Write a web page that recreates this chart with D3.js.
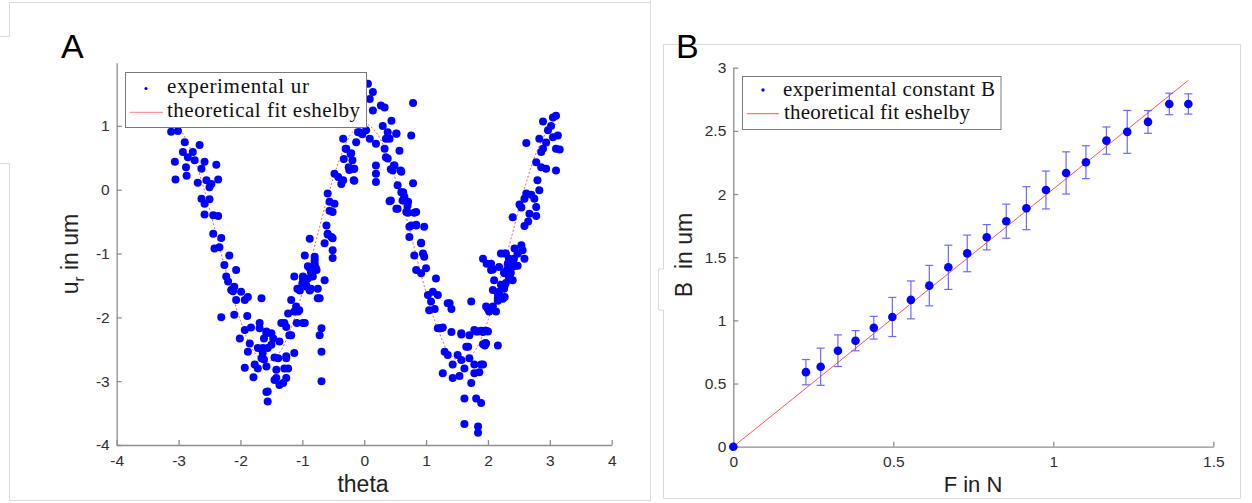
<!DOCTYPE html>
<html><head><meta charset="utf-8">
<script src="https://cdn.jsdelivr.net/npm/d3@7"></script>
<style>body{margin:0;background:#fff}svg{display:block}</style>
</head><body>
<svg id="c" width="1252" height="503"></svg>
<script>
// ---------- Panel A data: experimental u_r versus theta ----------
const thetaA = [
 -3.12,-3.01,-2.90,-2.66,-2.93,-2.77,-2.85,-2.74,-3.06,-2.58,
 -2.39,-2.88,-2.63,-2.87,-3.05,-2.69,-2.55,-2.47,-2.36,-2.50,
 -2.63,-2.50,-2.58,-2.58,-2.44,-2.36,-2.44,-2.31,-2.34,-2.18,
 -2.26,-2.07,-2.23,-2.20,-2.10,-2.12,-1.99,-1.88,-1.66,-1.93,
 -2.31,-2.10,-1.89,-1.93,-1.83,-1.69,-1.58,-2.01,-1.85,-1.88,
 -1.72,-1.64,-1.56,-1.66,-1.77,-1.58,-1.93,-1.79,-1.58,-1.56,
 -2.42,-2.15,-2.07,-1.72,-1.62,-1.64,-1.69,-1.62,
 0.06,0.14,0.09,0.27,0.14,-0.26,-0.10,0.03,0.09,0.19,
 -0.34,-0.13,-0.30,-0.22,-0.33,-0.19,-0.17,-0.25,-0.48,-0.42,
 -0.34,-0.37,-0.17,0.19,0.19,0.19,-0.59,-0.56,-0.48,-0.51,
 -0.61,-0.59,-0.53,-0.64,-0.88,-0.51,-0.51,-0.96,-0.80,-0.80,
 -0.88,-0.77,-1.13,-0.99,-0.91,-0.83,-0.64,-1.00,-0.93,-0.88,
 -1.04,-0.75,-0.75,-1.18,-1.23,-1.07,-1.29,-1.09,-0.99,-0.69,
 -1.18,-0.72,-1.50,-1.37,-1.13,-0.69,-1.39,-1.26,-1.29,-1.42,
 -1.26,-0.69,-1.37,-1.56,
 -1.34,-1.26,-1.21,-1.45,-1.50,-1.47,-1.58,-1.45,-1.31,-1.23,
 -1.26,-1.42,-1.13,-1.05,-0.96,-1.10,-1.08,-0.99,-0.94,-0.86,
 -0.86,-0.78,-0.91,-0.80,-0.72,-0.29,-0.21,-0.03,-0.08,-0.56,
 -0.59,-0.51,-0.24,-0.16,-0.16,
 0.33,0.79,0.44,0.30,0.38,0.52,0.76,0.35,0.57,0.33,
 0.35,0.49,0.46,0.59,0.54,0.79,0.63,0.65,0.41,0.71,
 0.52,0.68,0.81,0.76,0.84,0.97,0.73,0.92,0.81,0.95,
 0.97,0.84,0.92,1.00,1.16,1.03,1.11,1.19,1.08,1.05,
 1.14,1.35,1.41,1.73,1.92,1.98,2.00,1.22,1.27,1.41,
 1.57,1.70,1.81,1.92,2.00,1.30,1.35,1.51,1.65,1.43,
 1.57,1.70,1.62,1.78,1.89,1.95,1.27,1.43,1.54,1.86,
 1.73,1.62,1.81,1.89,1.62,1.84,1.84,
 0.41,0.52,0.48,0.43,0.60,0.60,0.43,0.62,0.70,0.54,
 0.71,0.84,0.73,0.84,0.92,0.38,1.38,1.19,1.24,1.57,
 1.78,1.89,1.97,1.92,1.96,1.68,1.78,1.92,
 3.10,3.05,2.89,3.02,2.97,3.13,3.05,2.83,2.62,2.94,
 2.89,3.10,3.16,2.86,2.78,2.86,2.94,3.10,2.80,2.83,
 2.62,2.70,2.75,2.59,2.51,2.54,2.78,2.67,2.78,2.40,
 2.65,2.59,2.54,2.43,2.27,2.48,2.59,2.40,2.05,2.32,
 2.48,2.18,2.27,2.05,2.35,2.40,2.10,2.27,2.08,2.18,
 2.27,2.16,1.97,2.05,2.13,2.02,1.84,1.94,1.97,2.16,
 2.08,2.16,2.21,2.26,2.29,2.24,2.16,2.08,2.21,2.29,
 2.34,2.37,2.42,2.48,2.56,2.42,2.31,2.37,2.34,2.26
];
const urA = [
 0.91,0.92,0.745,0.70,0.59,0.59,0.51,0.46,0.44,0.44,
 0.39,0.35,0.33,0.22,0.16,0.11,0.15,0.09,0.16,0.04,
 -0.14,-0.15,-0.22,-0.39,-0.40,-0.41,-0.69,-0.755,-0.90,-1.03,
 -1.18,-1.26,-1.36,-1.44,-1.52,-1.59,-1.60,-1.68,-1.70,-1.73,
 -2.00,-1.96,-1.98,-2.20,-2.16,-2.09,-2.22,-2.33,-2.41,-2.54,
 -2.48,-2.56,-2.48,-2.64,-2.74,-2.77,-2.79,-2.94,-3.17,-3.32,
 -0.92,-1.57,-1.73,-2.80,-2.66,-2.48,-2.17,-2.33,
 1.66,1.53,1.42,1.32,1.24,1.03,0.90,0.93,0.80,0.72,
 0.80,0.745,0.64,0.56,0.48,0.46,0.33,0.35,0.25,0.20,
 0.15,0.09,0.15,0.38,0.25,0.12,-0.06,-0.19,-0.22,-0.35,
 -0.56,-0.69,-0.74,-0.84,-0.77,-0.95,-1.07,-1.03,-1.05,-1.16,
 -1.23,-1.26,-1.36,-1.36,-1.39,-1.36,-1.42,-1.47,-1.52,-1.58,
 -1.58,-1.55,-1.70,-1.73,-1.94,-1.91,-2.09,-2.09,-2.09,-2.17,
 -2.28,-2.28,-2.25,-2.38,-2.56,-2.54,-2.64,-2.64,-2.80,-2.95,
 -2.95,-3.00,-3.06,-3.16,
 -2.09,-2.15,-2.28,-2.63,-2.43,-2.33,-2.25,-2.98,-3.03,-2.80,
 -2.61,-2.82,-1.91,-1.89,-2.09,-1.83,-1.55,-1.39,-1.49,-1.55,
 -1.29,-1.23,-1.20,-1.10,-1.70,0.64,0.57,0.87,0.90,-0.33,
 -0.70,-0.76,0.31,0.33,0.14,
 1.29,1.36,1.08,1.00,0.90,0.88,0.85,0.80,0.61,0.64,
 0.51,0.38,0.30,0.30,0.07,0.10,-0.04,-0.11,-0.18,-0.19,
 -0.30,-0.35,-0.36,-0.56,-0.56,-0.58,-0.74,-0.83,-1.03,-1.00,
 -1.05,-1.26,-1.31,-1.23,-1.39,-1.65,-1.60,-1.65,-1.75,-1.89,
 -1.87,-1.78,-1.87,-1.75,-1.08,-1.16,-1.87,-2.17,-2.16,-2.23,
 -2.27,-2.28,-2.22,-2.23,-2.22,-2.54,-2.59,-2.59,-2.46,-2.74,
 -2.67,-2.64,-2.80,-2.74,-2.74,-2.44,-2.875,-2.95,-2.92,-2.86,
 -3.03,-3.27,-3.27,-3.34,-3.67,-3.71,-3.81,
 0.80,0.875,0.38,0.32,0.28,-0.04,-0.17,-0.17,-0.25,-0.30,
 -0.36,-0.35,-0.58,-0.55,-0.84,0.49,-1.78,-2.17,-2.17,-2.25,
 -2.20,-2.21,-2.21,-2.42,-2.40,-2.46,-2.875,-2.74,
 1.16,1.13,1.07,1.00,0.93,0.85,0.82,0.80,0.73,0.74,
 0.64,0.64,0.63,0.59,0.43,0.35,0.33,0.30,0.15,-0.01,
 -0.06,-0.08,-0.14,-0.14,-0.23,-0.28,-0.27,-0.375,-0.41,-0.43,
 -0.50,-0.57,-0.87,-0.92,-1.00,-1.00,-1.08,-1.11,-1.16,-1.16,
 -1.19,-1.21,-1.31,-1.26,-1.37,-1.42,-1.42,-1.50,-1.57,-1.60,
 -1.68,-1.70,-1.83,-1.86,-1.91,-1.91,-2.22,-2.21,-2.41,-2.44,
 -1.25,-1.63,-1.49,-1.55,-1.46,-1.71,-1.74,-1.83,-1.00,-1.00,
 -1.08,-1.16,-1.08,-1.00,-0.95,-1.20,-1.25,-1.30,-1.38,-1.30
];
// theoretical Eshelby fit
const fitThetaA = [-3.14,-3.0,-2.8,-2.6,-2.4,-2.2,-2.0,-1.8,-1.6,-1.4,-1.2,-1.0,-0.8,-0.6,-0.4,-0.2,0,
                   0.2,0.4,0.6,0.8,1.0,1.2,1.4,1.6,1.8,2.0,2.2,2.4,2.6,2.8,3.0,3.14];
const fitUrA = [1.04,0.97,0.62,0.05,-0.67,-1.40,-2.05,-2.51,-2.70,-2.59,-2.21,-1.61,-0.88,-0.15,0.47,0.89,1.04,
                0.89,0.47,-0.15,-0.88,-1.61,-2.21,-2.59,-2.70,-2.51,-2.05,-1.40,-0.67,0.05,0.62,0.97,1.04];
const xTicksA = [-4,-3,-2,-1,0,1,2,3,4];
const yTicksA = [-4,-3,-2,-1,0,1];

// ---------- Panel B data: constant B versus force F ----------
const forceB = [0,0.227,0.273,0.327,0.382,0.439,0.497,0.555,0.6125,0.672,0.731,
                0.792,0.853,0.916,0.977,1.040,1.102,1.166,1.231,1.296,1.3625,1.422];
const constB = [0,0.59,0.633,0.76,0.839,0.942,1.027,1.162,1.275,1.42,1.53,
                1.658,1.785,1.888,2.032,2.167,2.252,2.423,2.492,2.571,2.713,2.713];
const errB   = [0,0.10,0.147,0.125,0.08,0.09,0.155,0.15,0.16,0.175,0.145,
                0.10,0.135,0.17,0.15,0.167,0.13,0.108,0.17,0.09,0.085,0.08];
const fitForceB = [0,1.422];
const fitConstB = [0,2.90];
const xTicksB = [0,0.5,1,1.5];
const yTicksB = [0,0.5,1,1.5,2,2.5,3];

// ---------- drawing ----------
const svg = d3.select("#c");
const AX = "#8e8e8e", TXT = "#2e2e2e";
const SANS = "'Liberation Sans', Arial, Helvetica, sans-serif";
const SERIF = "'Liberation Serif', 'Times New Roman', serif";

// screenshot frames
const fr = svg.append("g").attr("fill","none").attr("stroke","#d9d9d9").attr("stroke-width",1);
fr.append("path").attr("d","M0,36.5H9.5V2.5H650.5");
fr.append("path").attr("d","M0,163.5H9.5V500.5H650.5");
fr.append("path").attr("d","M650.5,0V500.5");
fr.append("path").attr("d","M663.5,269V44.5H1240.5V498.5H663.5V310");
fr.append("path").attr("d","M663.5,269H658.5V310H663.5");

function styleAxis(g){
  g.attr("font-family",SANS).attr("font-size",15.5);
  g.select(".domain").attr("stroke",AX).attr("stroke-width",1.3);
  g.selectAll(".tick line").attr("stroke",AX).attr("stroke-width",1.3);
  g.selectAll(".tick text").attr("fill",TXT);
}
const fmt = d => String(d);

// ----- Panel A -----
const xA = d3.scaleLinear().domain([-4,4]).range([116.7,611.7]);
const yA = d3.scaleLinear().domain([-4,1.99]).range([445,62.7]);

svg.append("g").attr("transform",`translate(0,${yA(-4)})`)
  .call(d3.axisBottom(xA).tickValues(xTicksA).tickFormat(fmt).tickSize(-5).tickSizeOuter(0).tickPadding(10))
  .call(styleAxis);
svg.append("g").attr("transform",`translate(${xA(-4)},0)`)
  .call(d3.axisLeft(yA).tickValues(yTicksA).tickFormat(fmt).tickSize(-5).tickSizeOuter(0).tickPadding(7))
  .call(styleAxis);

const lineA = d3.line().x((d,i)=>xA(fitThetaA[i])).y((d,i)=>yA(fitUrA[i])).curve(d3.curveCatmullRom);
svg.append("path").datum(fitUrA).attr("d",lineA)
  .attr("fill","none").attr("stroke","#ff5c5c").attr("stroke-width",1).attr("stroke-dasharray","2,2");

svg.append("g").selectAll("circle").data(thetaA).join("circle")
  .attr("cx",(d)=>xA(d)).attr("cy",(d,i)=>yA(urA[i])).attr("r",4).attr("fill","#0000ff");

svg.append("text").attr("x",363).attr("y",492).attr("text-anchor","middle")
  .attr("font-family",SANS).attr("font-size",23).attr("fill","#222").text("theta");
const ylA = svg.append("text").attr("transform","translate(78,254) rotate(-90)").attr("text-anchor","middle")
  .attr("font-family",SANS).attr("font-size",23).attr("fill","#222");
ylA.append("tspan").text("u");
ylA.append("tspan").attr("font-size",15).attr("dy",6).text("r");
ylA.append("tspan").attr("dy",-6).text(" in um");

svg.append("text").attr("x",61).attr("y",58).attr("font-family",SANS).attr("font-size",34).attr("fill","#000").text("A");

// legend A
const lgA = svg.append("g");
lgA.append("rect").attr("x",125.5).attr("y",72.5).attr("width",241).attr("height",55)
  .attr("fill","#fff").attr("stroke","#7a7a7a").attr("stroke-width",1);
lgA.append("circle").attr("cx",146).attr("cy",88.5).attr("r",1.6).attr("fill","#0000ff");
lgA.append("line").attr("x1",130).attr("x2",163).attr("y1",112.3).attr("y2",112.3).attr("stroke","#ff8080").attr("stroke-width",1);
lgA.append("text").attr("x",167).attr("y",92.7).attr("font-family",SERIF).attr("font-size",21).attr("fill","#111")
  .attr("textLength",142).text("experimental ur");
lgA.append("text").attr("x",167).attr("y",116.7).attr("font-family",SERIF).attr("font-size",21).attr("fill","#111")
  .attr("textLength",193).text("theoretical fit eshelby");

// ----- Panel B -----
const xB = d3.scaleLinear().domain([0,1.5]).range([733.3,1213.3]);
const yB = d3.scaleLinear().domain([0,3]).range([446.7,67.7]);

svg.append("g").attr("transform",`translate(0,${yB(0)})`)
  .call(d3.axisBottom(xB).tickValues(xTicksB).tickFormat(fmt).tickSize(-5).tickSizeOuter(0).tickPadding(9))
  .call(styleAxis);
svg.append("g").attr("transform",`translate(${xB(0)},0)`)
  .call(d3.axisLeft(yB).tickValues(yTicksB).tickFormat(fmt).tickSize(-5).tickSizeOuter(0).tickPadding(7))
  .call(styleAxis);

svg.append("path").datum(fitConstB)
  .attr("d",d3.line().x((d,i)=>xB(fitForceB[i])).y(d=>yB(d)))
  .attr("fill","none").attr("stroke","#ff5555").attr("stroke-width",1);

const eb = svg.append("g").attr("stroke","#6a6aff").attr("stroke-width",1.2);
forceB.forEach((f,i)=>{
  if(errB[i]===0) return;
  const x = xB(f), y0 = yB(constB[i]-errB[i]), y1 = yB(constB[i]+errB[i]);
  eb.append("line").attr("x1",x).attr("x2",x).attr("y1",y0).attr("y2",y1);
  eb.append("line").attr("x1",x-4).attr("x2",x+4).attr("y1",y0).attr("y2",y0);
  eb.append("line").attr("x1",x-4).attr("x2",x+4).attr("y1",y1).attr("y2",y1);
});
svg.append("g").selectAll("circle").data(forceB).join("circle")
  .attr("cx",d=>xB(d)).attr("cy",(d,i)=>yB(constB[i])).attr("r",4.3).attr("fill","#0000ff");

svg.append("text").attr("x",973).attr("y",492).attr("text-anchor","middle")
  .attr("font-family",SANS).attr("font-size",22).attr("fill","#222").text("F in N");
svg.append("text").attr("transform","translate(692,255) rotate(-90)").attr("text-anchor","middle")
  .attr("font-family",SANS).attr("font-size",23).attr("fill","#222").text("B\u00a0\u00a0in um");

svg.append("text").attr("x",676).attr("y",58).attr("font-family",SANS).attr("font-size",34).attr("fill","#000").text("B");

// legend B
const lgB = svg.append("g");
lgB.append("rect").attr("x",742.5).attr("y",76.5).attr("width",258.5).attr("height",53)
  .attr("fill","#fff").attr("stroke","#7a7a7a").attr("stroke-width",1);
lgB.append("circle").attr("cx",763).attr("cy",90).attr("r",1.7).attr("fill","#0000ff");
lgB.append("line").attr("x1",747).attr("x2",779).attr("y1",113.7).attr("y2",113.7).attr("stroke","#ff5a5a").attr("stroke-width",1);
lgB.append("text").attr("x",783).attr("y",95.7).attr("font-family",SERIF).attr("font-size",21).attr("fill","#111")
  .attr("textLength",212).text("experimental constant B");
lgB.append("text").attr("x",784).attr("y",119).attr("font-family",SERIF).attr("font-size",21).attr("fill","#111")
  .attr("textLength",186).text("theoretical fit eshelby");
</script>
</body></html>
